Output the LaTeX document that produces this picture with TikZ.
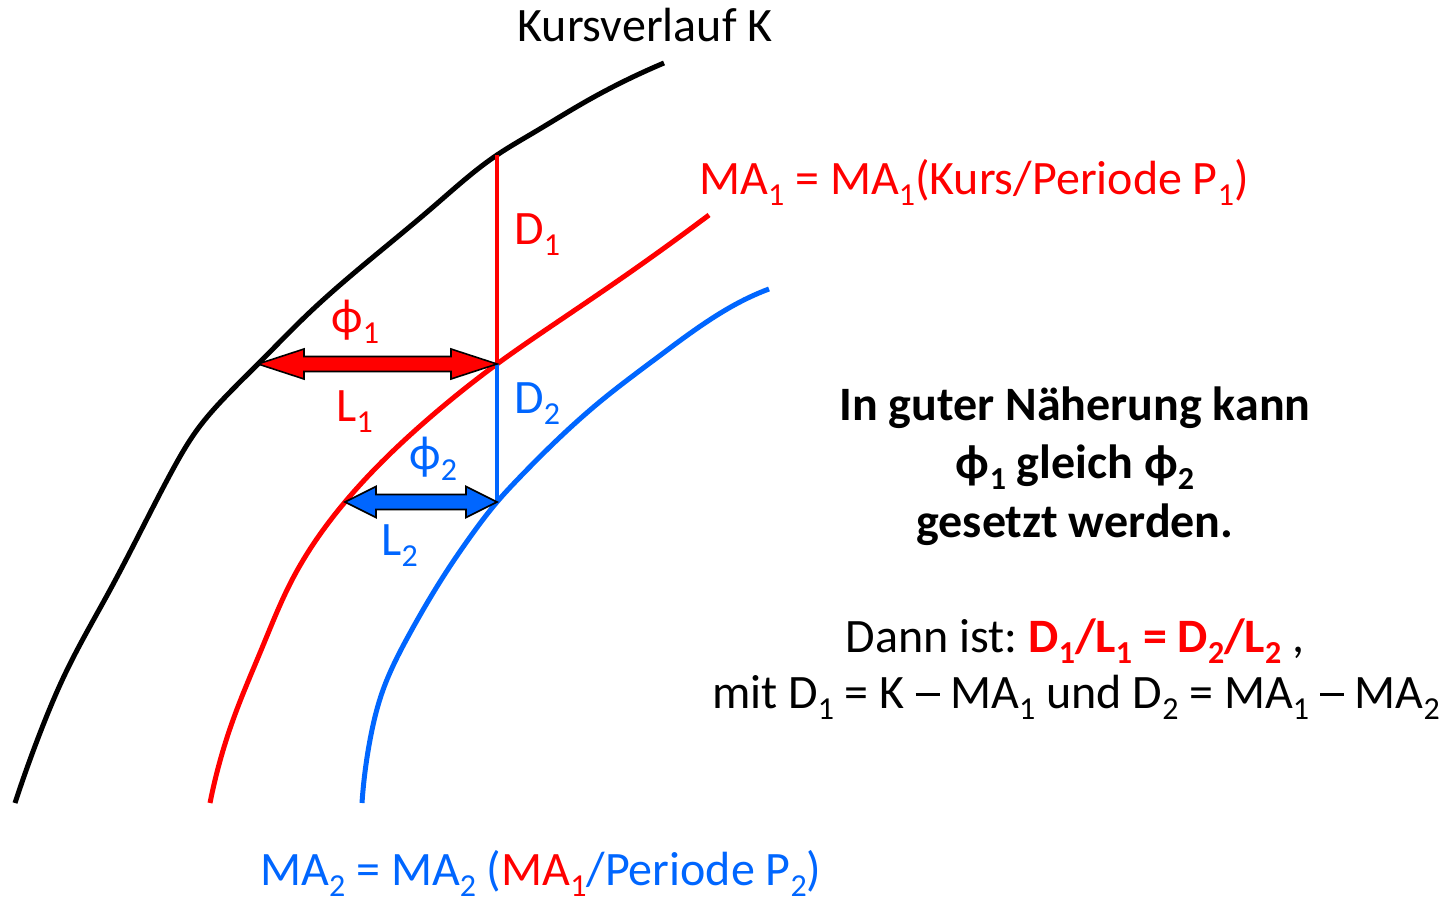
\documentclass[tikz,border=0pt]{standalone}
\usepackage{fontspec}
\setmainfont{Carlito}
\usepackage{xcolor}
\usepackage{tikz}
\usetikzlibrary{calc, hobby}

\definecolor{kblue}{RGB}{0,102,255}
\definecolor{kred}{RGB}{255,0,0}
\newcommand\idx[1]{\raisebox{-5.5pt}{\fontsize{16}{16}\selectfont #1}}
\newcommand\strich{\rule[0.27em]{0.5em}{0.065em}}

\begin{document}
\begin{tikzpicture}[
  x=0.5pt, y=-0.5pt,
  font=\fontsize{24}{29}\selectfont,
  curve/.style={
    use Hobby shortcut,
    line width=2.5pt,
    line cap=butt
  },
  dline/.style={
    line width=1.6pt
  },
  fatarrow/.style={
    draw=black,
    line width=0.8pt,
    line join=miter
  },
  lbl/.style={
    anchor=base west,
    inner sep=0pt
  },
  txt/.style={
    anchor=base,
    inner sep=0pt
  }
]
\useasboundingbox (0,0) rectangle (1447,903);

% Fixed points
\coordinate (d1top) at (497,155);
\coordinate (cross) at (497,364);
\coordinate (d2bot) at (497,502);
\coordinate (l1left) at (258,364);
\coordinate (l2left) at (345,502);

% Kursverlauf K
\draw[curve, black] (15,803) .. (40,733) .. (67,670) .. (110,590)
  .. (150,513) .. (172,471) .. (197,430) .. (233,389) .. (l1left)
  .. (309,313) .. (378,253) .. (433,207) .. (d1top) .. (533,133)
  .. (585,102) .. (664,63);

% MA1
\draw[curve, kred] (210,803) .. (233,720) .. (262,648) .. (292,580)
  .. (l2left) .. (427,420) .. (cross) .. (550,327) .. (619,280)
  .. (709,215);

% MA2
\draw[curve, kblue] (362,803) .. (370,740) .. (383,690) .. (410,633)
  .. (443,577) .. (473,533) .. (d2bot) .. (520,477) .. (602,400)
  .. (654,360) .. (705,323) .. (750,297) .. (769,289);

% Abstaende D1, D2
\draw[dline, kred] (d1top) -- (cross);
\draw[dline, kblue] (cross) -- (d2bot);

% Verschiebung L1
\filldraw[fatarrow, fill=kred] (l1left) -- ++(46,-15) -- ++(0,7.5)
  -- ($(cross)+(-46,-7.5)$) -- ++(0,-7.5) -- (cross) -- ++(-46,15)
  -- ++(0,-7.5) -- ($(l1left)+(46,7.5)$) -- ++(0,7.5) -- cycle;

% Verschiebung L2
\filldraw[fatarrow, fill=kblue] (l2left) -- ++(31,-15.5) -- ++(0,8)
  -- ($(d2bot)+(-31,-7.5)$) -- ++(0,-8) -- (d2bot) -- ++(-31,15.5)
  -- ++(0,-8) -- ($(l2left)+(31,7.5)$) -- ++(0,8) -- cycle;

% Labels
\node[txt] (kurs) at (645,42) {Kursverlauf K};
\node[lbl, text=kred] (ma1) at (699,195)
  {MA\idx{1} = MA\idx{1}(Kurs/Periode P\idx{1})};
\node[lbl, text=kred] (d1) at (514,245) {D\idx{1}};
\node[lbl, text=kred] (phi1) at (331,333) {ϕ\idx{1}};
\node[lbl, text=kred] (l1) at (336,422) {L\idx{1}};
\node[lbl, text=kblue] (d2) at (514,414) {D\idx{2}};
\node[lbl, text=kblue] (phi2) at (409,470) {ϕ\idx{2}};
\node[lbl, text=kblue] (l2) at (381,556) {L\idx{2}};
\node[lbl, text=kblue] (ma2) at (260,885)
  {MA\idx{2} = MA\idx{2} (\textcolor{kred}{MA\idx{1}}/Periode P\idx{2})};

% Erklaerung
\node[txt] (hint1) at (1075,421) {\bfseries In guter Näherung kann};
\node[txt] (hint2) at (1075,479) {\bfseries ϕ\idx{1} gleich ϕ\idx{2}};
\node[txt] (hint3) at (1075,538) {\bfseries gesetzt werden.};

\node[txt] (dann) at (1075,653)
  {Dann ist:\ \textcolor{kred}{\bfseries D\idx{1}/L\idx{1} = D\idx{2}/L\idx{2}} ,};
\node[txt] (mit) at (1076,709)
  {mit D\idx{1} = K \strich{} MA\idx{1} und D\idx{2} = MA\idx{1} \strich{} MA\idx{2}};

\end{tikzpicture}
\end{document}
